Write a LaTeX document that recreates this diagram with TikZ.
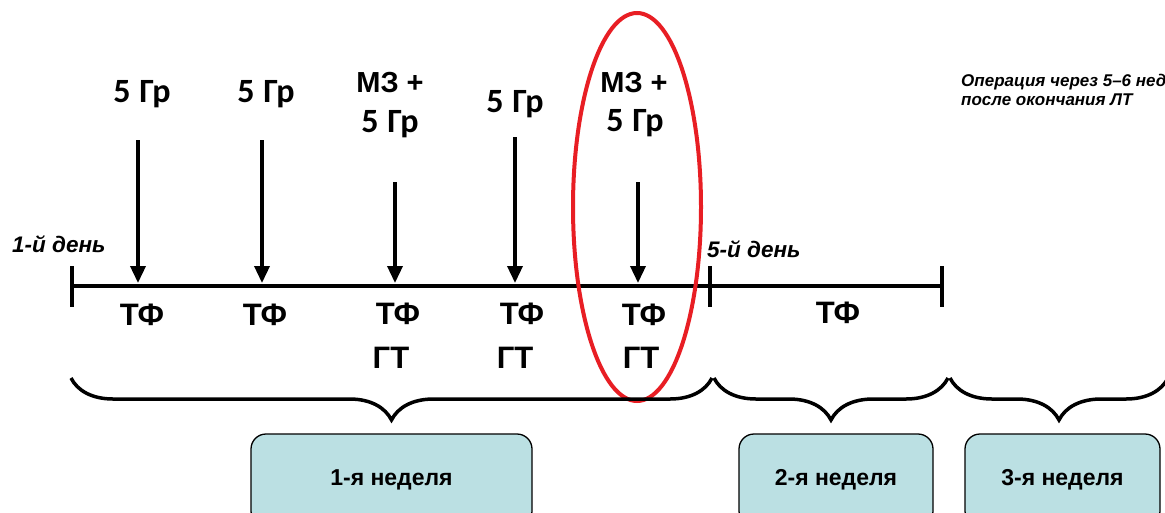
\documentclass[tikz,border=0pt]{standalone}
\usepackage{fontspec}
\setmainfont{Liberation Sans}
\newfontfamily\calfont{Carlito}
\usetikzlibrary{positioning}
\usetikzlibrary{arrows.meta,decorations.pathreplacing}

\definecolor{weekfill}{RGB}{187,224,227}
\definecolor{ovalred}{RGB}{232,30,36}

\newcommand{\gr}{5\hspace{1pt} Гр}

\tikzset{
  dose/.style={inner sep=0pt,anchor=base,font=\calfont\bfseries\fontsize{34}{34}\selectfont},
  mzlab/.style={inner sep=0pt,anchor=base,font=\bfseries\fontsize{29}{29}\selectfont},
  drug/.style={inner sep=0pt,anchor=base,font=\bfseries\fontsize{31}{31}\selectfont},
  daylab/.style={inner sep=0pt,anchor=base west,font=\bfseries\itshape\fontsize{22.5}{22.5}\selectfont},
  weekbox/.style={draw,line width=1.3pt,rounded corners=15pt,fill=weekfill,
    minimum height=92pt,font=\bfseries\fontsize{23}{23}\selectfont},
  shot/.style={line width=3.5pt,-{Triangle[length=17pt,width=15pt]}},
  axisline/.style={line width=3.5pt},
  wbrace/.style={decorate,decoration={brace,mirror,amplitude=42pt},line width=3.5pt},
}

\begin{document}
\begin{tikzpicture}[x=1pt,y=-1pt]
  \clip (0,0) rectangle (1165,512);
  \useasboundingbox (0,0) rectangle (1165,512);

  % timeline
  \draw[axisline] (72,286) -- (942,286);
  \draw[axisline] (72,266) -- (72,307);
  \draw[axisline] (710,266) -- (710,307);
  \draw[axisline] (942,266) -- (942,307);

  \node[daylab] (d1) at (12,252) {1-й день};
  \node[daylab] (d5) at (707,257) {5-й день};

  % fractions
  \coordinate (s1) at (138,140); \coordinate (t1) at (138,283);
  \coordinate (s2) at (262,140); \coordinate (t2) at (262,283);
  \coordinate (s3) at (395,182); \coordinate (t3) at (395,283);
  \coordinate (s4) at (515,137); \coordinate (t4) at (515,283);
  \coordinate (s5) at (638,182); \coordinate (t5) at (638,283);
  \foreach \i in {1,...,5}
    \draw[shot] (s\i) -- (t\i);

  \node[dose] (g1) at (142,102) {\gr};
  \node[dose] (g2) at (266,102) {\gr};
  \node[mzlab] (m3) at (390,92) {МЗ +};
  \node[dose] (g3) at (390,132) {\gr};
  \node[dose] (g4) at (515,112) {\gr};
  \node[mzlab] (m5) at (634,92) {МЗ +};
  \node[dose] (g5) at (635,131) {\gr};

  \node[drug] (tf1) at (142,325) {ТФ};
  \node[drug] (tf2) at (265,325) {ТФ};
  \node[drug] (tf3) at (398,324) {ТФ};
  \node[drug] (tf4) at (522,324) {ТФ};
  \node[drug] (tf5) at (644,325) {ТФ};
  \node[drug] (gt3) at (391,368) {ГТ};
  \node[drug] (gt4) at (515,368) {ГТ};
  \node[drug] (gt5) at (641,368) {ГТ};
  \node[drug] (tf6) at (838,323) {ТФ};

  \draw[ovalred,line width=4pt] (637,207) ellipse [x radius=64, y radius=194];

  % weeks
  \draw[wbrace] (71,378) -- (712,378);
  \draw[wbrace] (714,378) -- (948,378);
  \draw[wbrace] (950,378) -- (1168,378);

  \node[weekbox,minimum width=281pt] (w1) at (391.5,480) {1-я неделя};
  \node[weekbox,minimum width=194pt] (w2) at (836,480) {2-я неделя};
  \node[weekbox,minimum width=195pt] (w3) at (1062.5,480) {3-я неделя};

  \node[inner sep=0pt,anchor=north west,align=left,
    font=\bfseries\itshape\fontsize{17}{19}\selectfont] (op) at (961,74)
    {Операция через 5–6 нед\\после окончания ЛТ};
\end{tikzpicture}
\end{document}
